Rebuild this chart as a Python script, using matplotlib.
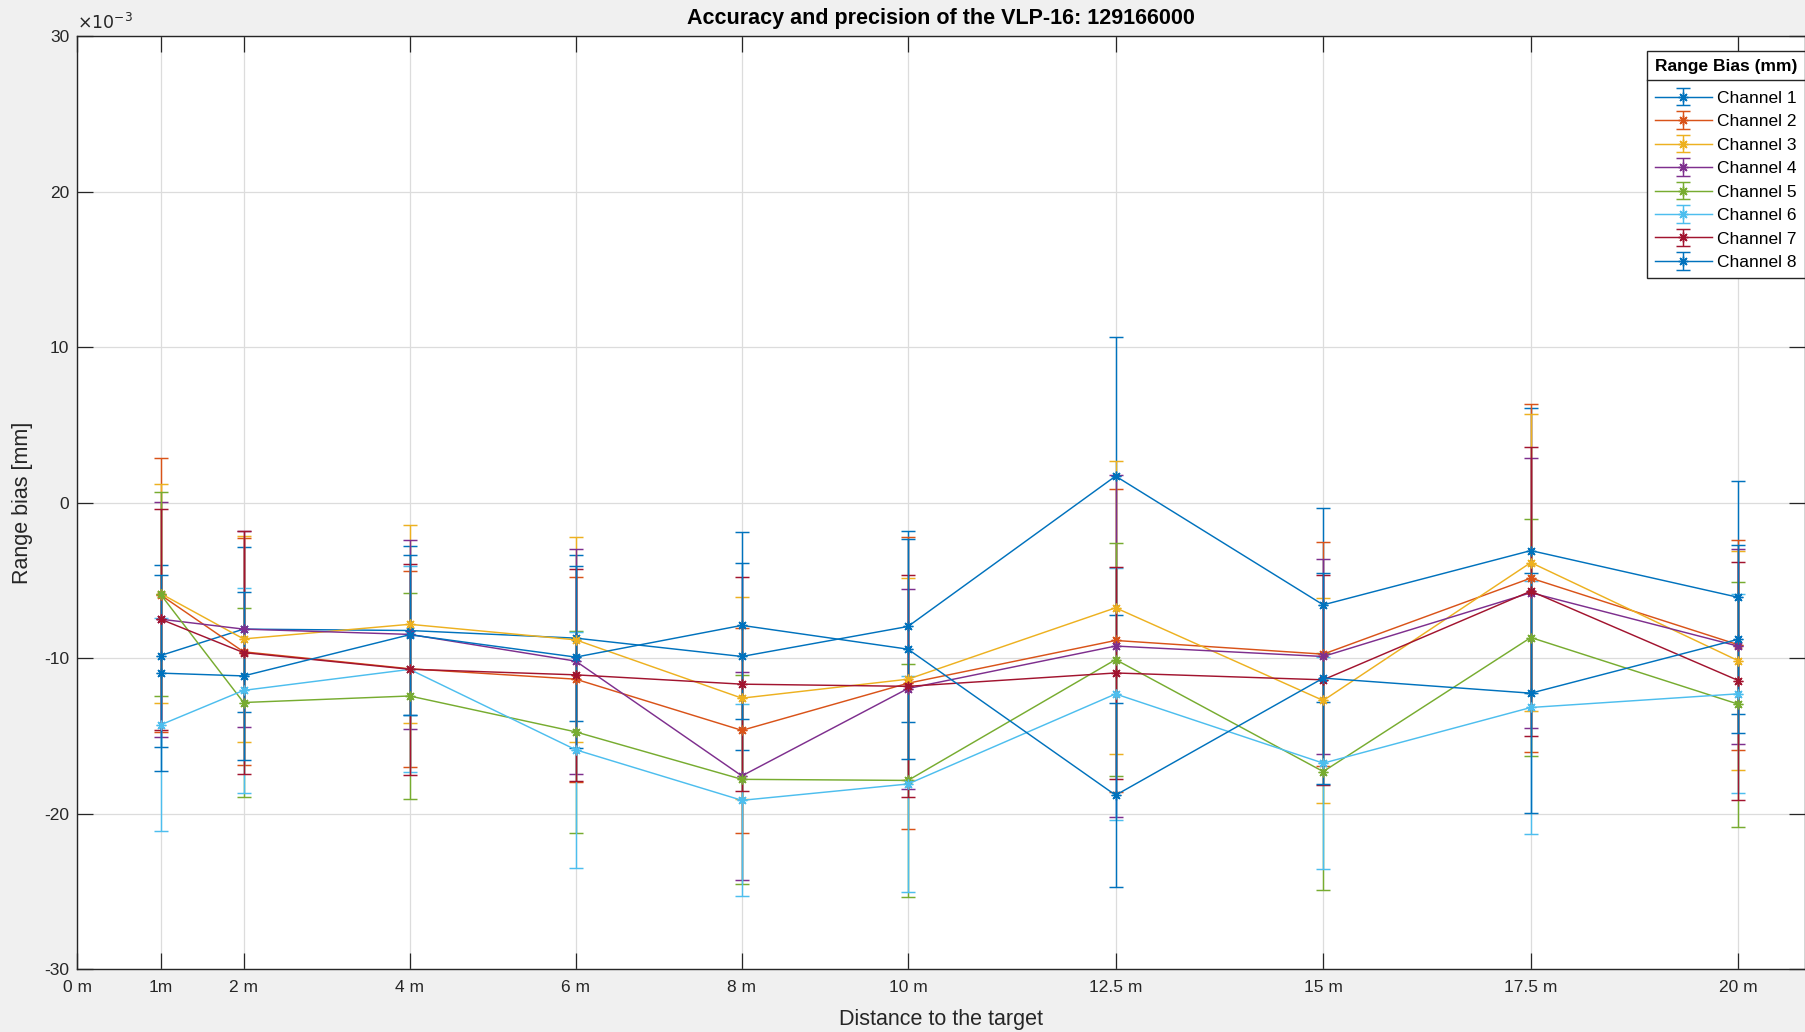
import matplotlib.pyplot as plt
from matplotlib.lines import Line2D

plt.rcParams['font.family'] = ['Liberation Sans', 'DejaVu Sans']
plt.rcParams['axes.unicode_minus'] = False

# distancias al blanco (m) y etiquetas del eje x
distancias = [1, 2, 4, 6, 8, 10, 12.5, 15, 17.5, 20]
ticks_x = [0, 1, 2, 4, 6, 8, 10, 12.5, 15, 17.5, 20]
etiquetas_x = ['0 m', '1m', '2 m', '4 m', '6 m', '8 m', '10 m', '12.5 m', '15 m', '17.5 m', '20 m']
ticks_y = [-30, -20, -10, 0, 10, 20, 30]

canales = ['Channel 1', 'Channel 2', 'Channel 3', 'Channel 4',
           'Channel 5', 'Channel 6', 'Channel 7', 'Channel 8']

# sesgo medio y desviacion (x10^-3)
media_c1 = [-9.84, -8.14, -8.23, -8.72, -9.90, -7.97, 1.70, -6.58, -3.09, -6.10]
error_c1 = [5.85, 5.30, 5.44, 5.35, 6.00, 6.15, 8.95, 6.26, 9.16, 7.50]

media_c2 = [-5.94, -9.60, -10.69, -11.36, -14.65, -11.62, -8.87, -9.75, -4.86, -9.15]
error_c2 = [8.80, 7.30, 6.30, 6.60, 6.60, 9.40, 9.73, 7.20, 11.18, 6.75]

media_c3 = [-5.85, -8.77, -7.83, -8.83, -12.58, -11.36, -6.77, -12.73, -3.86, -10.18]
error_c3 = [7.05, 6.60, 6.37, 6.60, 6.48, 6.50, 9.41, 6.56, 9.57, 7.04]

media_c4 = [-7.50, -8.14, -8.48, -10.20, -17.58, -11.96, -9.23, -9.90, -5.80, -9.24]
error_c4 = [7.55, 6.30, 6.08, 7.23, 6.68, 6.43, 11.00, 6.24, 8.67, 6.28]

media_c5 = [-5.90, -12.86, -12.44, -14.75, -17.80, -17.87, -10.10, -17.30, -8.68, -12.97]
error_c5 = [6.57, 6.10, 6.60, 6.50, 6.70, 7.48, 7.50, 7.60, 7.61, 7.88]

media_c6 = [-14.30, -12.08, -10.73, -15.90, -19.15, -18.10, -12.31, -16.76, -13.18, -12.30]
error_c6 = [6.85, 6.60, 6.63, 7.60, 6.18, 6.94, 8.10, 6.80, 8.15, 6.39]

media_c7 = [-7.50, -9.65, -10.72, -11.08, -11.68, -11.82, -10.96, -11.40, -5.70, -11.45]
error_c7 = [7.10, 7.80, 6.78, 6.80, 6.90, 7.13, 6.83, 6.75, 9.30, 7.65]

media_c8 = [-10.97, -11.15, -8.50, -9.94, -7.90, -9.43, -18.82, -11.29, -12.26, -8.79]
error_c8 = [6.28, 5.40, 5.14, 5.83, 6.00, 7.07, 5.93, 6.79, 7.72, 6.05]

medias = [media_c1, media_c2, media_c3, media_c4, media_c5, media_c6, media_c7, media_c8]
errores = [error_c1, error_c2, error_c3, error_c4, error_c5, error_c6, error_c7, error_c8]

# colores por defecto de MATLAB
colores = ['#0072BD', '#D95319', '#EDB120', '#7E2F8E',
           '#77AC30', '#4DBEEE', '#A2142F', '#0072BD']

fig = plt.figure(figsize=(18.06, 10.32), dpi=100, facecolor='#f0f0f0')
ax = fig.add_axes([0.0429, 0.0610, 0.9565, 0.9041])
ax.set_facecolor('white')

asterisco = (8, 2, 0)
for nombre, m, e, c in zip(canales, medias, errores, colores):
    ax.errorbar(distancias, m, yerr=e, color=c, marker=asterisco, markersize=7,
                linewidth=1.05, elinewidth=1.05, capsize=4.7, capthick=1.05,
                label=nombre)

ax.set_xlim(0, 20.8)
ax.set_ylim(-30, 30)
ax.set_xticks(ticks_x)
ax.set_xticklabels(etiquetas_x)
ax.set_yticks(ticks_y)
ax.set_yticklabels([str(v) for v in ticks_y])
ax.text(0.0, 1.004, r'$\times10^{-3}$', transform=ax.transAxes, ha='left',
        va='bottom', fontsize=12.5, color='#262626')

ax.grid(True, color='#dcdcdc', linewidth=0.9)
ax.set_axisbelow(True)
for lado in ax.spines.values():
    lado.set_color('#262626')
    lado.set_linewidth(1.0)
ax.tick_params(direction='in', length=11.5, width=0.9, top=True, right=True,
               labelsize=12.5, colors='#262626')
ax.tick_params(axis='x', pad=8)
ax.tick_params(axis='y', pad=6)

ax.set_xlabel('Distance to the target', fontsize=15.5, color='#262626', labelpad=10)
ax.set_ylabel('Range bias [mm]', fontsize=15.5, color='#262626', labelpad=8)
ax.set_title('Accuracy and precision of the VLP-16: 129166000',
             fontsize=15.5, fontweight='bold', color='black', pad=9)

leg = ax.legend(loc='upper right', bbox_to_anchor=(1.0, 1 - 15 / 933),
                borderaxespad=0, fontsize=12.5, title='Range Bias (mm)',
                title_fontproperties={'weight': 'bold', 'size': 12.5},
                fancybox=False, framealpha=1, edgecolor='#262626',
                handlelength=3.3, handletextpad=0.3, labelspacing=0.48,
                borderpad=0.45)
leg.get_frame().set_linewidth(1.0)
leg._legend_box.sep = 12

# linea que separa el titulo de la leyenda
fig.canvas.draw()
caja = leg.get_window_extent()
caja_titulo = leg.get_title().get_window_extent()
inv = fig.transFigure.inverted()
y_sep = caja_titulo.y0 - 6
(x0, y0) = inv.transform((caja.x0, y_sep))
(x1, _) = inv.transform((caja.x1, y_sep))
fig.add_artist(Line2D([x0, x1], [y0, y0], color='#262626', linewidth=1.0,
                      transform=fig.transFigure))

fig.savefig('out.png', dpi=100, facecolor=fig.get_facecolor())
